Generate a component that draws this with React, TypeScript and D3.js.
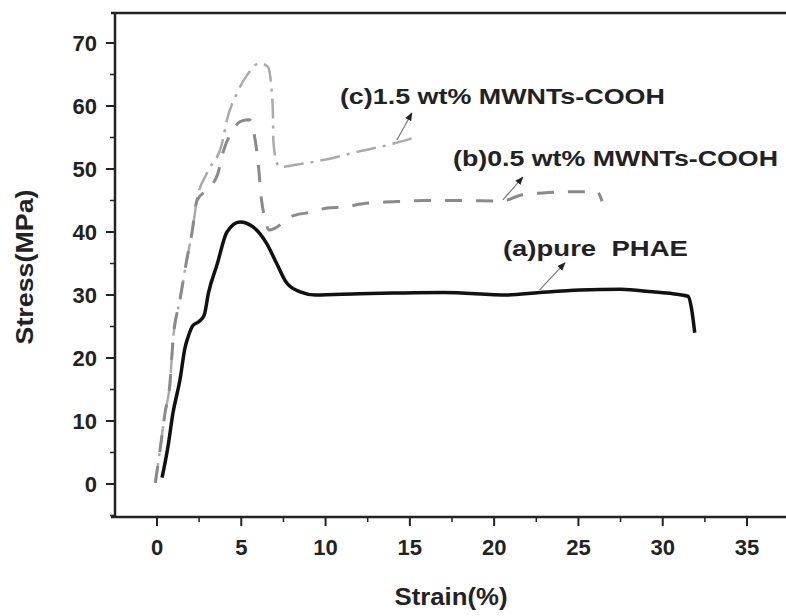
import React from "react";
import * as d3 from "d3";

// (a) pure PHAE
const strainA = [0.3, 0.65, 0.95, 1.36, 1.66, 1.84, 2.14, 2.5, 2.8, 3.05, 3.56, 4.15, 4.92, 5.7, 6.5, 7.1, 7.7, 8.5, 9.4, 12, 14, 17, 20.8, 22.7, 25.1, 27.5, 29.4, 30.6, 31.5, 31.7, 31.9];
const stressA = [1, 5.9, 11.3, 16.5, 21.6, 23.3, 25.2, 25.8, 26.8, 30.3, 34.8, 40, 41.6, 40.8, 38.2, 35, 31.9, 30.5, 30, 30.2, 30.3, 30.4, 30, 30.4, 30.8, 30.9, 30.5, 30.2, 29.8, 28, 24];
// (b) 0.5 wt% MWNTs-COOH
const strainB = [-0.1, 0.18, 0.47, 0.77, 0.95, 1.36, 1.76, 2.07, 2.37, 3.0, 3.6, 3.9, 4.5, 5.0, 5.5, 5.8, 6.0, 6.2, 6.4, 6.65, 7.0, 7.9, 9.0, 10.1, 11.2, 12.2, 14, 16, 18, 20.5, 21.5, 22.9, 24.7, 26.1, 26.4];
const stressB = [0.2, 5.4, 11.2, 16, 22.8, 29.2, 35.5, 39.8, 45, 46.8, 49.2, 52.5, 56.2, 57.6, 57.8, 55, 51, 45.1, 42.2, 40.3, 40.6, 42.4, 43.1, 43.8, 44, 44.5, 44.8, 45, 45, 44.9, 45.8, 46.2, 46.4, 46.4, 44.9];
// (c) 1.5 wt% MWNTs-COOH
const strainC = [-0.1, 0.18, 0.47, 0.77, 0.95, 1.36, 1.76, 2.07, 2.37, 2.97, 3.86, 4.15, 4.74, 5.34, 6.1, 6.58, 6.8, 6.88, 6.9, 7.1, 7.3, 8.07, 10, 12, 14, 15.4];
const stressC = [0.2, 5.4, 11.2, 16, 22.8, 29.2, 35.5, 39.8, 45.1, 49.4, 54.1, 57.8, 62, 64.9, 66.8, 66.2, 62.5, 58.3, 54.6, 51, 50.3, 50.6, 51.5, 52.8, 54, 55.1];

const xTicks = [0, 5, 10, 15, 20, 25, 30, 35];
const yTicks = [0, 10, 20, 30, 40, 50, 60, 70];
const xMinor = [2.5, 7.5, 12.5, 17.5, 22.5, 27.5, 32.5, 37.5];
const yMinor = [-5, 5, 15, 25, 35, 45, 55, 65];

const labels = ["(a)pure\u00a0\u00a0PHAE", "(b)0.5 wt% MWNTs-COOH", "(c)1.5 wt% MWNTs-COOH"];
const labelPos = [[20.52, 36.2], [17.56, 50.5], [10.85, 60.3]];
const labelWidth = [185, 325, 325];
const arrowFrom = [[22.7, 30.8], [20.52, 45.1], [14.23, 54.6]];
const arrowTo = [[24.2, 35.1], [21.7, 48.7], [15.12, 58.9]];

const FONT = "'Liberation Sans', Arial, sans-serif";

export default function App() {
  const x = d3.scaleLinear().domain([0, 35]).range([157, 747]);
  const y = d3.scaleLinear().domain([0, 70]).range([484, 43]);
  const left = 115, top = 13, bottom = 517, right = 786;

  const line = d3.line<[number, number]>().x(d => x(d[0])).y(d => y(d[1])).curve(d3.curveMonotoneX);
  const pa = line(strainA.map((v, i) => [v, stressA[i]] as [number, number])) || "";
  const pb = line(strainB.map((v, i) => [v, stressB[i]] as [number, number])) || "";
  const pc = line(strainC.map((v, i) => [v, stressC[i]] as [number, number])) || "";

  return (
    <svg width={786} height={616} style={{ position: "absolute", left: 0, top: 0, background: "#fff" }}>
      <defs>
        <marker id="ah" viewBox="0 0 10 10" refX="9" refY="5" markerWidth="7" markerHeight="7" orient="auto">
          <path d="M0,1 L10,5 L0,9 Z" fill="#222" />
        </marker>
      </defs>
      <rect x={0} y={0} width={786} height={616} fill="#fff" />
      {/* curves */}
      <path d={pc} fill="none" stroke="#aaa" strokeWidth={2.5} strokeDasharray="20 7 3 7" />
      <path d={pb} fill="none" stroke="#8a8a8a" strokeWidth={3} strokeDasharray="17 14" />
      <path d={pa} fill="none" stroke="#111" strokeWidth={3.5} strokeLinejoin="round" />

      {/* frame */}
      <line x1={left - 4} x2={right} y1={top} y2={top} stroke="#222" strokeWidth={2.5} />
      <line x1={left} x2={left} y1={top} y2={bottom} stroke="#222" strokeWidth={2.5} />
      <line x1={left - 4} x2={right} y1={bottom} y2={bottom} stroke="#222" strokeWidth={2.5} />

      {/* x ticks */}
      {xTicks.map(t => (
        <g key={"xt" + t}>
          <line x1={x(t)} x2={x(t)} y1={bottom} y2={bottom + 9} stroke="#222" strokeWidth={2} />
          <text x={x(t)} y={555} textAnchor="middle" fontFamily={FONT} fontSize={22} fontWeight="bold" fill="#222">{t}</text>
        </g>
      ))}
      {xMinor.map(t => (
        <line key={"xm" + t} x1={x(t)} x2={x(t)} y1={bottom} y2={bottom + 5} stroke="#222" strokeWidth={1.5} />
      ))}
      {/* y ticks */}
      {yTicks.map(t => (
        <g key={"yt" + t}>
          <line x1={left - 9} x2={left} y1={y(t)} y2={y(t)} stroke="#222" strokeWidth={2} />
          <text x={97} y={y(t) + 8} textAnchor="end" fontFamily={FONT} fontSize={22} fontWeight="bold" fill="#222">{t}</text>
        </g>
      ))}
      {yMinor.map(t => (
        <line key={"ym" + t} x1={left - 5} x2={left} y1={y(t)} y2={y(t)} stroke="#222" strokeWidth={1.5} />
      ))}

      {/* axis titles */}
      <text x={451} y={605} textAnchor="middle" fontFamily={FONT} fontSize={23} fontWeight="bold" fill="#222" textLength={113} lengthAdjust="spacingAndGlyphs">Strain(%)</text>
      <text transform="translate(33,267) rotate(-90)" textAnchor="middle" fontFamily={FONT} fontSize={23} fontWeight="bold" fill="#222" textLength={155} lengthAdjust="spacingAndGlyphs">Stress(MPa)</text>

      {/* annotations */}
      {labels.map((s, i) => (
        <g key={s}>
          <line x1={x(arrowFrom[i][0])} y1={y(arrowFrom[i][1])} x2={x(arrowTo[i][0])} y2={y(arrowTo[i][1])} stroke="#777" strokeWidth={1.2} markerEnd="url(#ah)" />
          <text x={x(labelPos[i][0])} y={y(labelPos[i][1])} fontFamily={FONT} fontSize={22} fontWeight="bold" fill="#222" textLength={labelWidth[i]} lengthAdjust="spacingAndGlyphs">{s}</text>
        </g>
      ))}
    </svg>
  );
}
